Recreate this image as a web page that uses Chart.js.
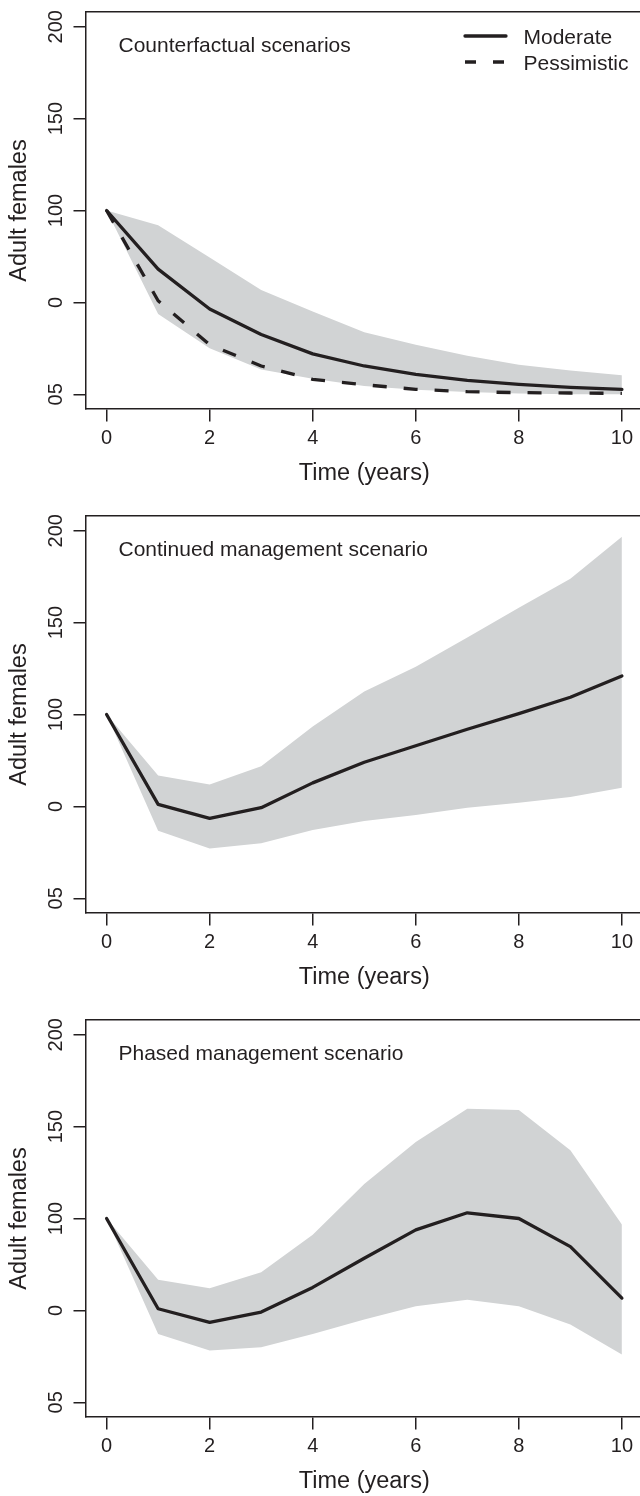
<!DOCTYPE html>
<html>
<head>
<meta charset="utf-8">
<script src="https://cdn.jsdelivr.net/npm/chart.js@4.4.1/dist/chart.umd.min.js"></script>
<style>
  html, body { margin: 0; padding: 0; background: #ffffff; }
  body { width: 640px; height: 1496px; overflow: hidden; position: relative; }
  .panel { position: absolute; left: 0; width: 660px; height: 489px; }
</style>
</head>
<body>
<div class="panel" style="top:0px"><canvas id="chart1" width="660" height="489"></canvas></div>
<div class="panel" style="top:504px"><canvas id="chart2" width="660" height="489"></canvas></div>
<div class="panel" style="top:1008px"><canvas id="chart3" width="660" height="489"></canvas></div>
<script>
//data (adult females per year)
const years = [0, 1, 2, 3, 4, 5, 6, 7, 8, 9, 10];
const xTickValues = [0, 2, 4, 6, 8, 10];
const yTickValues = [0, 50, 100, 150, 200];
const yTickLabels = ["05", "0", "100", "150", "200"];

//counterfactual scenarios
const cfModerate = [100, 68.1, 46.4, 32.5, 22, 15.4, 10.8, 7.6, 5.4, 3.8, 2.7];
const cfPessimistic = [100, 50.9, 27, 15.4, 8.1, 5.2, 2.7, 1.4, 0.9, 0.7, 0.5];
const cfUpper = [100, 92, 74.4, 56.7, 45, 33.8, 26.9, 21, 16.1, 13, 10.3];
const cfLower = [100, 43.7, 25.1, 13.5, 8.5, 4.5, 2.5, 1.3, 0.4, 0, 0];

//continued management scenario
const cmMean = [100, 51.1, 43.5, 49.3, 62.8, 74, 83, 92, 100.5, 109.4, 121];
const cmUpper = [100, 66.8, 61.9, 71.8, 93.5, 112.5, 126, 141.9, 158.1, 173.8, 196.7];
const cmLower = [100, 36.7, 27.1, 30, 37.2, 42.1, 45.3, 49.3, 52, 55.1, 60.1];

//phased management scenario
const pmMean = [100, 50.9, 43.5, 49.1, 62.5, 78.4, 93.8, 103.1, 100, 84.7, 56.7];
const pmUpper = [100, 66.7, 62.1, 70.8, 91.2, 118.8, 141.6, 159.7, 159.1, 137.1, 96.8];
const pmLower = [100, 37.2, 28.2, 30, 37.2, 45, 52.2, 55.8, 52.2, 42.3, 26];

const ink = "#231f20";
const bandColor = "#d1d3d4";
const fontFamily = '"Liberation Sans", Arial, Helvetica, sans-serif';

//turns a list of numbers into {x, y} points
function toPoints(values) {
  return values.map((v, i) => ({ x: years[i], y: v }));
}

function lineSet(label, values, dashed) {
  return {
    label: label,
    data: toPoints(values),
    borderColor: ink,
    borderWidth: 3.3,
    borderDash: dashed ? [14, 17] : [],
    borderCapStyle: dashed ? "butt" : "round",
    borderJoinStyle: "round",
    pointRadius: 0,
    tension: 0,
    fill: false,
  };
}

function bandSets(upper, lower) {
  return [
    {
      label: "upper",
      data: toPoints(upper),
      borderWidth: 0,
      pointRadius: 0,
      backgroundColor: bandColor,
      fill: "+1",
    },
    {
      label: "lower",
      data: toPoints(lower),
      borderWidth: 0,
      pointRadius: 0,
      backgroundColor: bandColor,
      fill: false,
    },
  ];
}

//panel title and legend drawn inside the plot box
const panelText = {
  id: "panelText",
  afterDraw(chart, args, opts) {
    const ctx = chart.ctx;
    const area = chart.chartArea;
    ctx.save();
    ctx.fillStyle = ink;
    ctx.font = "21px " + fontFamily;
    ctx.textAlign = "left";
    ctx.textBaseline = "alphabetic";
    ctx.fillText(opts.title, area.left + 32.5, area.top + 39.5);
    if (opts.legend) {
      opts.legend.forEach((item, i) => {
        const y = area.top + 24 + i * 26;
        ctx.strokeStyle = ink;
        ctx.lineWidth = 3.3;
        ctx.lineCap = item.dashed ? "butt" : "round";
        ctx.setLineDash(item.dashed ? [11, 17] : []);
        ctx.beginPath();
        ctx.moveTo(465, y);
        ctx.lineTo(506, y);
        ctx.stroke();
        ctx.fillText(item.text, 523.5, y + 8);
      });
    }
    ctx.restore();
  },
};

function makePanel(canvasId, datasets, title, legend) {
  const ctx = document.getElementById(canvasId).getContext("2d");
  return new Chart(ctx, {
    type: "line",
    data: { datasets: datasets },
    options: {
      responsive: false,
      animation: false,
      devicePixelRatio: 1,
      layout: { padding: { top: 10, right: 17.5, bottom: 0, left: 0 } },
      plugins: {
        legend: { display: false },
        tooltip: { enabled: false },
        filler: { propagate: false },
        panelText: { title: title, legend: legend },
      },
      scales: {
        x: {
          type: "linear",
          position: "bottom",
          min: -0.4,
          max: 10.4,
          afterBuildTicks: (s) => {
            s.ticks = xTickValues.map((v) => ({ value: v }));
          },
          afterFit: (s) => {
            s.height = 80;
          },
          grid: { drawOnChartArea: false, drawTicks: true, tickLength: 12.5, color: ink, lineWidth: 1.5 },
          border: { display: true, color: ink, width: 1.5 },
          ticks: {
            autoSkip: false,
            maxRotation: 0,
            padding: 5,
            color: ink,
            font: { family: fontFamily, size: 20 },
          },
          title: {
            display: true,
            text: "Time (years)",
            color: ink,
            font: { family: fontFamily, size: 23.5, lineHeight: 1 },
            padding: { top: 0, bottom: 3.5 },
          },
        },
        xTop: {
          type: "linear",
          position: "top",
          min: -0.4,
          max: 10.4,
          afterFit: (s) => {
            s.height = 0;
          },
          grid: { display: false, drawTicks: false },
          border: { display: true, color: ink, width: 1.5 },
          ticks: { display: false },
        },
        y: {
          type: "linear",
          position: "left",
          min: -8,
          max: 208,
          afterBuildTicks: (s) => {
            s.ticks = yTickValues.map((v) => ({ value: v }));
          },
          afterFit: (s) => {
            s.width = 86;
          },
          grid: { drawOnChartArea: false, drawTicks: true, tickLength: 12.5, color: ink, lineWidth: 1.5 },
          border: { display: true, color: ink, width: 1.5 },
          ticks: {
            autoSkip: false,
            minRotation: 90,
            maxRotation: 90,
            crossAlign: "center",
            padding: 0,
            color: ink,
            font: { family: fontFamily, size: 20 },
            callback: (v) => yTickLabels[yTickValues.indexOf(v)],
          },
          title: {
            display: true,
            text: "Adult females",
            color: ink,
            font: { family: fontFamily, size: 23.5, lineHeight: 1 },
            padding: { top: 8, bottom: 0 },
          },
        },
        yRight: {
          type: "linear",
          position: "right",
          min: -8,
          max: 208,
          afterFit: (s) => {
            s.width = 0;
          },
          grid: { display: false, drawTicks: false },
          border: { display: true, color: ink, width: 1.5 },
          ticks: { display: false },
        },
      },
    },
    plugins: [panelText],
  });
}

makePanel(
  "chart1",
  [lineSet("Moderate", cfModerate, false), lineSet("Pessimistic", cfPessimistic, true)].concat(bandSets(cfUpper, cfLower)),
  "Counterfactual scenarios",
  [
    { text: "Moderate", dashed: false },
    { text: "Pessimistic", dashed: true },
  ]
);

makePanel(
  "chart2",
  [lineSet("Mean", cmMean, false)].concat(bandSets(cmUpper, cmLower)),
  "Continued management scenario",
  null
);

makePanel(
  "chart3",
  [lineSet("Mean", pmMean, false)].concat(bandSets(pmUpper, pmLower)),
  "Phased management scenario",
  null
);
</script>
</body>
</html>
